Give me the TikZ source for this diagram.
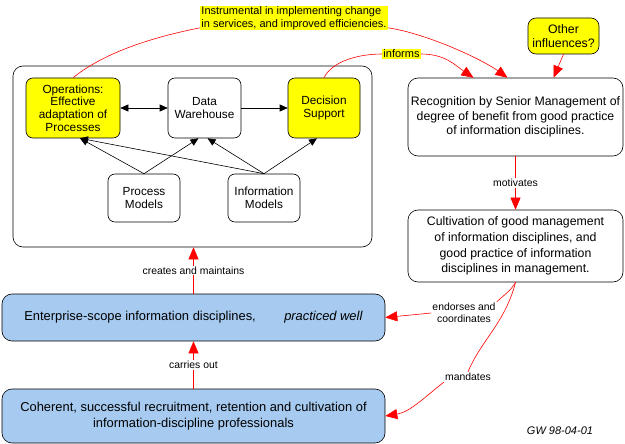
\documentclass[tikz,border=0pt]{standalone}
\usepackage{fontspec}
\setmainfont{Liberation Sans}
\usetikzlibrary{arrows.meta}

\definecolor{hiyellow}{RGB}{255,255,0}
\definecolor{skyblue}{RGB}{166,202,240}

\tikzset{
  box/.style={draw, rounded corners=7pt, align=center, inner sep=1pt,
    font=\fontsize{11.8}{12.7}\selectfont},
  hibox/.style={box, fill=hiyellow},
  bigbox/.style={box, rounded corners=10pt, font=\fontsize{12.3}{14.5}\selectfont},
  bluebox/.style={bigbox, fill=skyblue, font=\fontsize{12.9}{16}\selectfont},
  lbl/.style={font=\fontsize{10.4}{12}\selectfont, text=black, fill=white, inner sep=1pt, align=center},
  hilbl/.style={lbl, fill=hiyellow, align=left},
  blk/.style={-{Triangle[length=8pt,width=7pt]}},
  blkboth/.style={{Triangle[length=8pt,width=7pt]}-{Triangle[length=8pt,width=7pt]}},
  redarr/.style={red, -{Triangle[length=12pt,width=10pt]}},
}

\begin{document}
\begin{tikzpicture}[x=1pt,y=-1pt,line width=0.6pt]
\useasboundingbox (0,0) rectangle (625,444);

% Frame round the systems
\node[draw, rounded corners=10pt, minimum width=359pt, minimum height=181pt] (frame) at (192.5,156.5) {};

% Systems
\node[hibox, minimum width=94pt, minimum height=60pt] (ops) at (73,108)
  {Operations:\\Effective\\adaptation of\\Processes};
\node[box, minimum width=73pt, minimum height=60pt] (dw) at (204.5,108) {Data\\Warehouse};
\node[hibox, minimum width=72pt, minimum height=60pt] (ds) at (324,108) {Decision\\Support};
\node[box, minimum width=72pt, minimum height=48pt] (pm) at (144,198) {Process\\Models};
\node[box, minimum width=72pt, minimum height=48pt] (im) at (264,198) {Information\\Models};

\draw[blkboth] (ops) -- (dw);
\draw[blk] (dw) -- (ds);
\draw[blk] (pm.north) -- ([xshift=7pt]ops.south);
\draw[blk] (pm.north) -- ([xshift=-6pt]dw.south);
\draw[blk] (im.north) -- ([xshift=7pt]ops.south);
\draw[blk] (im.north) -- ([xshift=3pt]dw.south);
\draw[blk] (im.north) -- ([xshift=-7pt]ds.south);

% Management
\node[bigbox, minimum width=215pt, minimum height=78pt] (rec) at (515.5,117)
  {Recognition by Senior Management of\\degree of benefit from good practice\\of information disciplines.};
\node[bigbox, minimum width=215pt, minimum height=72pt, font=\fontsize{12.3}{15.7}\selectfont] (cult) at (515.5,246)
  {Cultivation of good management\\of information disciplines, and\\good practice of information\\disciplines in management.};
\node[hibox, rounded corners=8pt, minimum width=71pt, minimum height=36pt, font=\fontsize{12.3}{14}\selectfont] (other) at (563.5,36)
  {Other\\influences?};

% Disciplines
\node[bluebox, minimum width=383pt, minimum height=47pt] (ent) at (193.5,317.5)
  {Enterprise-scope information disciplines,\hspace{2.2em}\textit{practiced well}};
\node[bluebox, minimum width=383pt, minimum height=54pt] (coh) at (193.5,416)
  {Coherent, successful recruitment, retention and cultivation of\\information-discipline professionals};

% Labels
\node[hilbl, font=\fontsize{11}{12.7}\selectfont] (instr) at (294,18)
  {Instrumental in implementing change\\in services, and improved efficiencies.};
\node[hilbl, font=\fontsize{11}{12.7}\selectfont] (inf) at (401.5,54) {informs};
\node[lbl] (endlbl) at (464,313) {endorses and\\coordinates};
\node[lbl] (mandlbl) at (468,377) {mandates};
\node[font=\fontsize{11}{13}\selectfont\itshape] (gw) at (560,431) {GW 98-04-01};

% Red connectors
\draw[red] (ops.north) .. controls +(35,-28) and +(-40,8) .. ([yshift=3pt]instr.south west);
\draw[redarr] ([yshift=3pt]instr.south east) .. controls +(40,6) and +(-25,-18) .. ([xshift=-8pt]rec.north);
\draw[red] (ds.north) .. controls +(8,-16) and +(-25,0) .. (inf.west);
\draw[redarr] (inf.east) .. controls +(25,0) and +(-18,-12) .. ([xshift=-42pt]rec.north);
\draw[redarr] (other.south) -- ([xshift=38pt]rec.north);
\draw[redarr] (rec) -- (cult) node[lbl, midway] (motlbl) {motivates};
\draw[redarr] (ent.north) -- (ent.north |- frame.south) node[lbl, midway] (crelbl) {creates and maintains};
\draw[redarr] (coh.north) -- (ent.south) node[lbl, midway] (carlbl) {carries out};
\draw[red] (cult.south) .. controls +(-4,8) and +(6,-6) .. (endlbl.north east);
\draw[redarr] (endlbl.west) -- (ent.east);
\draw[red] (cult.south) .. controls +(-10,40) and +(12,-30) .. (mandlbl.north);
\draw[redarr] (mandlbl.south west) .. controls +(-18,14) and +(25,-4) .. (coh.east);

\end{tikzpicture}
\end{document}
